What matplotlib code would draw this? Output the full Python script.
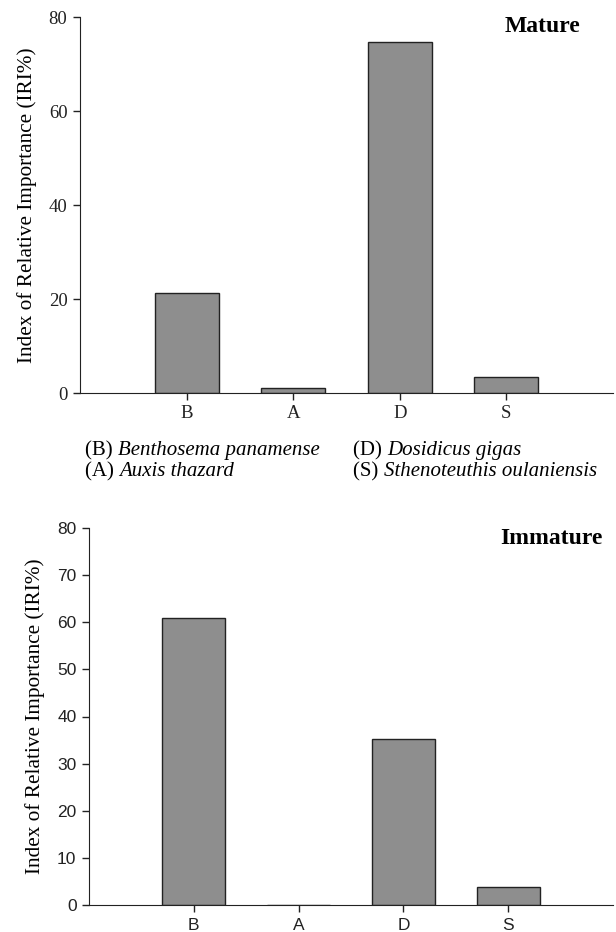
import matplotlib
matplotlib.use("Agg")
import matplotlib.pyplot as plt
import numpy as np

categories = ["B", "A", "D", "S"]
mature = [21.3, 1.0, 74.6, 3.4]
immature = [60.8, 0.0, 35.3, 3.8]
legend_left = [("(B) ", "Benthosema panamense"), ("(A) ", "Auxis thazard")]
legend_right = [("(D) ", "Dosidicus gigas"), ("(S) ", "Sthenoteuthis oulaniensis")]

serif = "Liberation Serif"
sans = "Liberation Sans"
bar_color = "#8e8e8e"
edge = "#222222"

fig = plt.figure(figsize=(6.16, 9.32), dpi=100)
W, H = 616, 932

def ax_rect(l, r, t, b):
    return [l / W, 1 - b / H, (r - l) / W, (b - t) / H]

x = np.arange(len(categories))

# Top panel
ax1 = fig.add_axes(ax_rect(80, 613, 17, 393))
ax1.bar(x, mature, width=0.6, color=bar_color, edgecolor=edge, linewidth=1.0)
ax1.set_xlim(-1, 4)
ax1.set_ylim(0, 80)
ax1.set_yticks([0, 20, 40, 60, 80])
ax1.set_xticks(x)
ax1.set_xticklabels(categories)
for lab in ax1.get_xticklabels() + ax1.get_yticklabels():
    lab.set_fontfamily(serif)
    lab.set_fontsize(13.5)
ax1.set_ylabel("Index of Relative Importance (IRI%)", fontfamily=serif, fontsize=15.3)
ax1.yaxis.set_label_coords(-0.081, 0.5)
ax1.text(0.938, 0.976, "Mature", transform=ax1.transAxes, ha="right", va="center",
         fontfamily=serif, fontweight="bold", fontsize=17)

# Bottom panel
ax2 = fig.add_axes(ax_rect(89, 613, 528, 905))
ax2.bar(x, immature, width=0.6, color=bar_color, edgecolor=edge, linewidth=1.0)
ax2.set_xlim(-1, 4)
ax2.set_ylim(0, 80)
ax2.set_yticks(np.arange(0, 81, 10))
ax2.set_xticks(x)
ax2.set_xticklabels(categories)
for lab in ax2.get_xticklabels() + ax2.get_yticklabels():
    lab.set_fontfamily(sans)
    lab.set_fontsize(12.5)
ax2.set_ylabel("Index of Relative Importance (IRI%)", fontfamily=serif, fontsize=15.3)
ax2.yaxis.set_label_coords(-0.084, 0.5)
ax2.text(0.981, 0.973, "Immature", transform=ax2.transAxes, ha="right", va="center",
         fontfamily=serif, fontweight="bold", fontsize=17)

for ax in (ax1, ax2):
    ax.spines["top"].set_visible(False)
    ax.spines["right"].set_visible(False)
    ax.spines["left"].set_color(edge)
    ax.spines["bottom"].set_color(edge)
    ax.tick_params(direction="out", length=5, width=1, colors=edge, pad=4)

# Legend text
def legend_line(xpx, ypx, prefix, name):
    t = fig.text(xpx / W, 1 - ypx / H, prefix, fontfamily=serif, fontsize=15, va="center", ha="left")
    fig.canvas.draw()
    bb = t.get_window_extent()
    fig.text(bb.x1 / W, 1 - ypx / H, name, fontfamily=serif, fontsize=15, style="italic",
             va="center", ha="left")

for i, (p, n) in enumerate(legend_left):
    legend_line(85, 451 + 21 * i, p, n)
for i, (p, n) in enumerate(legend_right):
    legend_line(353, 451 + 21 * i, p, n)

fig.savefig("out.png", dpi=100)
